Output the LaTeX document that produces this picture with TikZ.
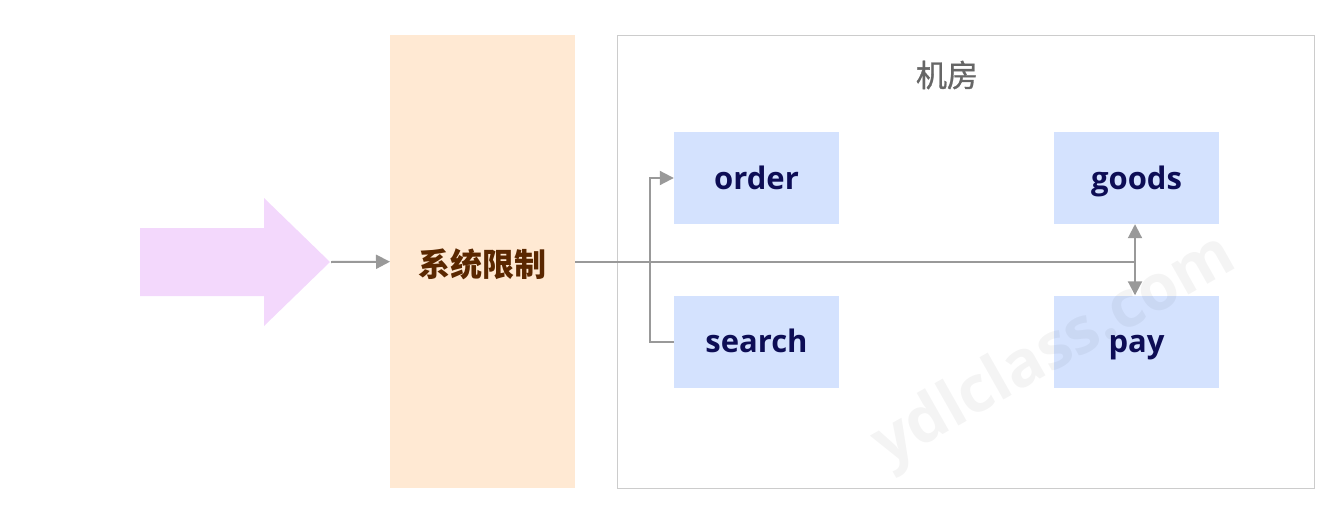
\documentclass[tikz,border=0pt]{standalone}
\usepackage{fontspec}
\setmainfont{Open Sans}
\newfontfamily\cjk{Noto Sans CJK SC}
\newfontfamily\cjkmed[FakeBold=1]{Noto Sans CJK SC}
\usetikzlibrary{arrows.meta}
\definecolor{pinkfill}{HTML}{F3D8FC}
\definecolor{orangefill}{HTML}{FFE9D3}
\definecolor{bluefill}{HTML}{D4E2FE}
\definecolor{navy}{HTML}{0D0D55}
\definecolor{brown}{HTML}{5A2700}
\definecolor{linegray}{HTML}{999999}
\definecolor{framegray}{HTML}{CCCCCC}
\definecolor{titlegray}{HTML}{666666}
\tikzset{
  svc/.style={fill=bluefill, draw=none, minimum width=165pt, minimum height=92pt, inner sep=0pt,
    text height=22pt, text depth=0pt,
    font=\fontsize{31}{34}\selectfont\bfseries, text=navy},
  conn/.style={draw=linegray, line width=2pt},
  tip/.style={-{Triangle[length=14pt,width=14pt]}},
}
\begin{document}
\begin{tikzpicture}[x=1pt,y=-1pt]
\useasboundingbox (0,0) rectangle (1321,506);
% frame
\node[draw=framegray, line width=1pt, minimum width=697pt, minimum height=453pt, inner sep=0pt, anchor=north west] (room) at (617,35) {};
\node[text=titlegray, font=\cjkmed\fontsize{31}{34}\selectfont] (title) at (947,75) {机房};
% pink arrow
\fill[pinkfill] (140,228) -- (264,228) -- (264,198) -- (330,262) -- (264,326) -- (264,296) -- (140,296) -- cycle;
\coordinate (tipA) at (331,262);
% orange box
\node[fill=orangefill, minimum width=185pt, minimum height=453pt, inner sep=0pt, anchor=north west,
  text=brown, font=\cjk\fontsize{32}{34}\selectfont\bfseries] (limit) at (390,35) {};
\node[text=brown, font=\cjk\fontsize{32}{34}\selectfont\bfseries] (limittext) at (482,264) {系统限制};
% services
\node[svc] (order) at (756.5,178) {order};
\node[svc] (goods) at (1136.5,178) {goods};
\node[svc] (search) at (756.5,341.5) {search};
\node[svc] (pay) at (1136.5,341.5) {pay};
\coordinate (bend) at (650,0);
% connectors
\draw[conn, tip] (tipA) -- (limit.west);
\draw[conn] (limit.east) -- ([xshift=-1.5pt]goods.south |- limit.east);
\draw[conn, {Triangle[length=14pt,width=14pt]}-{Triangle[length=14pt,width=14pt]}] ([xshift=-1.5pt]goods.south) -- ([xshift=-1.5pt]pay.north);
\draw[conn, tip] (search.west) -- (bend |- search.west) -- (bend |- order.west) -- (order.west);
% watermark
\node[rotate=29.5, text=black, text opacity=0.045, font=\fontsize{64}{68}\selectfont\bfseries] (wm) at (1055,352) {ydlclass.com};
\end{tikzpicture}
\end{document}
